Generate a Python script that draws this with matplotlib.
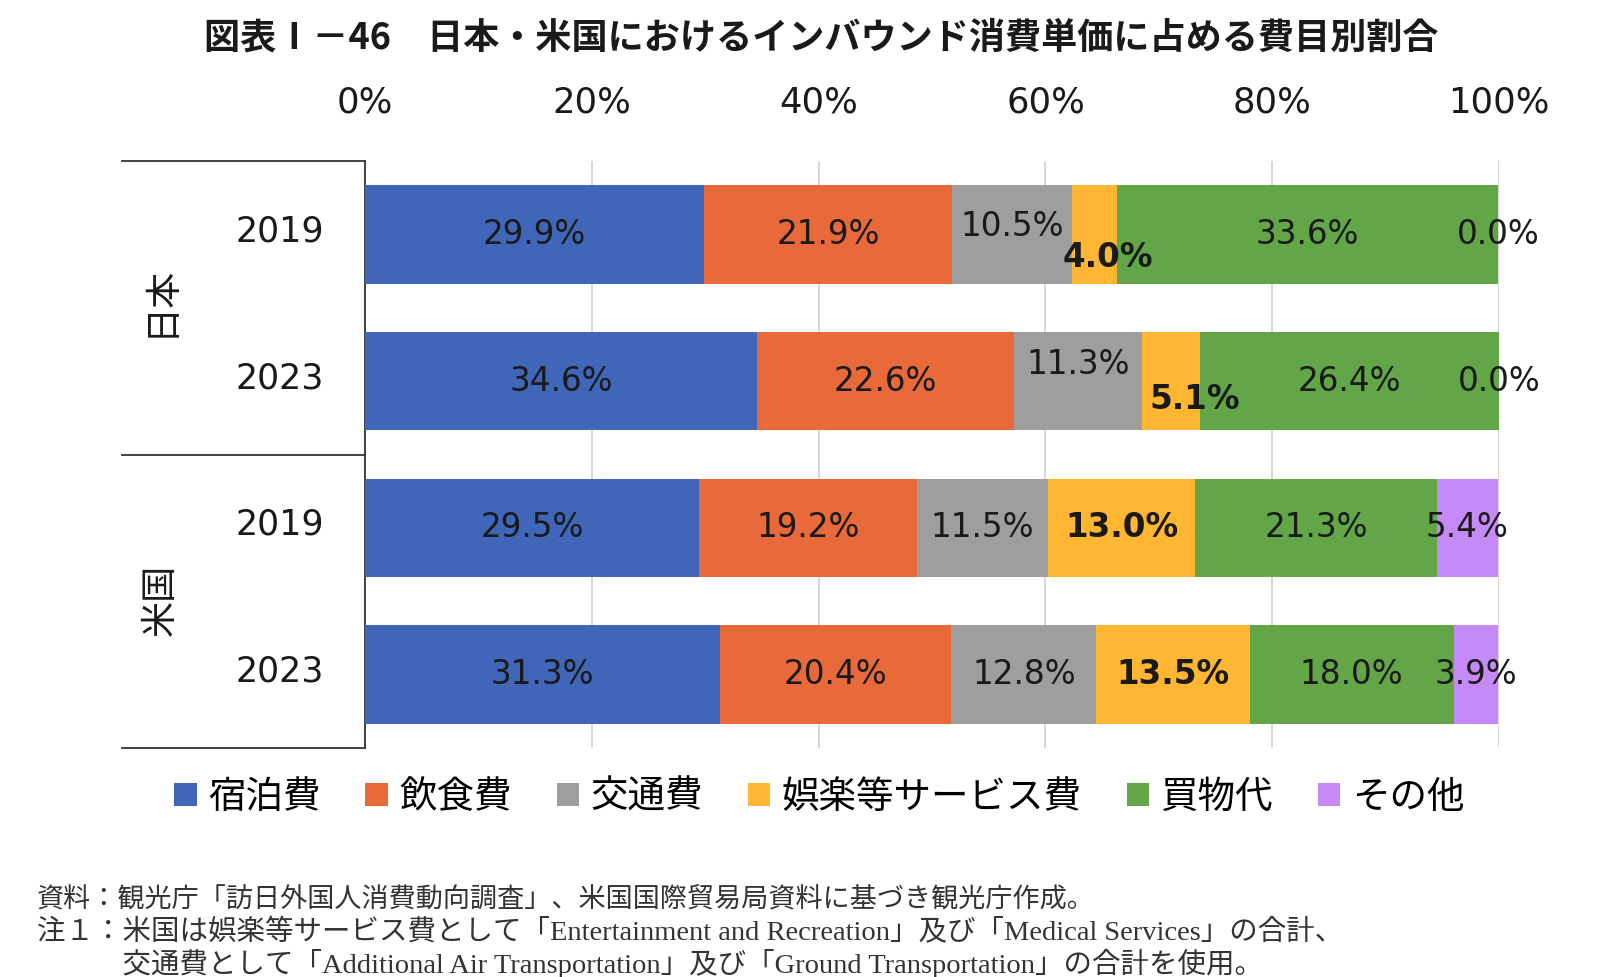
import numpy as np
import matplotlib
matplotlib.use("Agg")
import matplotlib.pyplot as plt
from matplotlib.lines import Line2D

# --- data -------------------------------------------------------------------
groups = ["日本", "米国"]
years = ["2019", "2023", "2019", "2023"]
categories = ["宿泊費", "飲食費", "交通費", "娯楽等サービス費", "買物代", "その他"]
lodging  = [29.9, 34.6, 29.5, 31.3]
food     = [21.9, 22.6, 19.2, 20.4]
traffic  = [10.5, 11.3, 11.5, 12.8]
leisure  = [4.0, 5.1, 13.0, 13.5]
shopping = [33.6, 26.4, 21.3, 18.0]
other    = [0.0, 0.0, 5.4, 3.9]

title = "図表Ⅰ－46　日本・米国におけるインバウンド消費単価に占める費目別割合"
notes = ["資料：観光庁「訪日外国人消費動向調査」、米国国際貿易局資料に基づき観光庁作成。",
         "注１：米国は娯楽等サービス費として「Entertainment and Recreation」及び「Medical Services」の合計、",
         "　　　交通費として「Additional Air Transportation」及び「Ground Transportation」の合計を使用。"]

colors = ["#3F66B8", "#E8693A", "#9E9E9E", "#FFB733", "#62A648", "#C58AF5"]
# label nudges (points) for crowded segments: (series, bar) -> (dx, dy)
nudge = {(2, 0): (0, 6), (3, 0): (10, -17), (2, 1): (0, 12), (3, 1): (17, -13)}

JP = ["Noto Sans CJK JP", "DejaVu Sans"]
plt.rcParams["font.family"] = ["DejaVu Sans", "Noto Sans CJK JP"]

series = [lodging, food, traffic, leisure, shopping, other]

fig = plt.figure(figsize=(16, 9.77), dpi=100)
ax = fig.add_axes([0.228, 0.2344, 0.709, 0.6008])

y = np.arange(len(years))
left = np.zeros(len(years))
for i, (vals, name, c) in enumerate(zip(series, categories, colors)):
    vals = np.array(vals)
    ax.barh(y, vals, left=left, height=0.67, color=c, label=name, zorder=3)
    for j, v in enumerate(vals):
        dx, dy = nudge.get((i, j), (0, 0))
        ax.annotate(f"{v:.1f}%", (left[j] + v / 2, y[j]), xytext=(dx, dy),
                    textcoords="offset points", ha="center", va="center",
                    fontsize=23.5, color="#1a1a1a",
                    fontweight="bold" if i == 3 else "normal", zorder=4)
    left += vals

ax.set_xlim(0, 100)
ax.set_ylim(3.5, -0.5)
ax.set_xticks(np.arange(0, 101, 20))
ax.set_xticklabels([f"{t}%" for t in range(0, 101, 20)])
ax.xaxis.tick_top()
ax.tick_params(axis="x", length=0, pad=30, labelsize=25.5, labelcolor="#1a1a1a")
ax.set_yticks([])
ax.grid(axis="x", color="#D0D0D0", linewidth=1.2, zorder=0)
for s in ["top", "right", "bottom"]:
    ax.spines[s].set_visible(False)
ax.spines["left"].set_color("#333333")
ax.spines["left"].set_linewidth(1.3)

# year labels and group frame on the left
for j, yr in enumerate(years):
    ax.text(-0.036, j - 0.02, yr, transform=ax.get_yaxis_transform(),
            ha="right", va="center", fontsize=25, color="#1a1a1a")
for yy in [0, 0.5, 1]:
    ax.add_line(Line2D([-0.214, 0], [yy, yy], transform=ax.transAxes,
                       color="#333333", linewidth=1.3, clip_on=False))
for g, yy in zip(groups, [0.762, 0.252]):
    ax.text(-0.18, yy, g, transform=ax.transAxes, rotation=90,
            ha="center", va="center", fontsize=26, family=JP, color="#1a1a1a")

leg = fig.legend(loc="center", bbox_to_anchor=(0.512, 0.184), ncol=6,
                 frameon=False, prop={"family": JP, "size": 27},
                 handlelength=0.6, handleheight=0.6, handletextpad=0.3,
                 columnspacing=1.2)

fig.text(0.513, 0.961, title, ha="center", va="center", fontsize=26,
         fontweight="bold", family=JP, color="#1a1a1a")

for k, line in enumerate(notes):
    fig.text(0.023, 0.0775 - k * 0.0322, line, ha="left", va="center",
             fontsize=19.5 if k == 0 else 20.5,
             family=["Liberation Serif", "Noto Sans CJK JP"],
             color="#333333")

fig.savefig("out.png", dpi=100)
